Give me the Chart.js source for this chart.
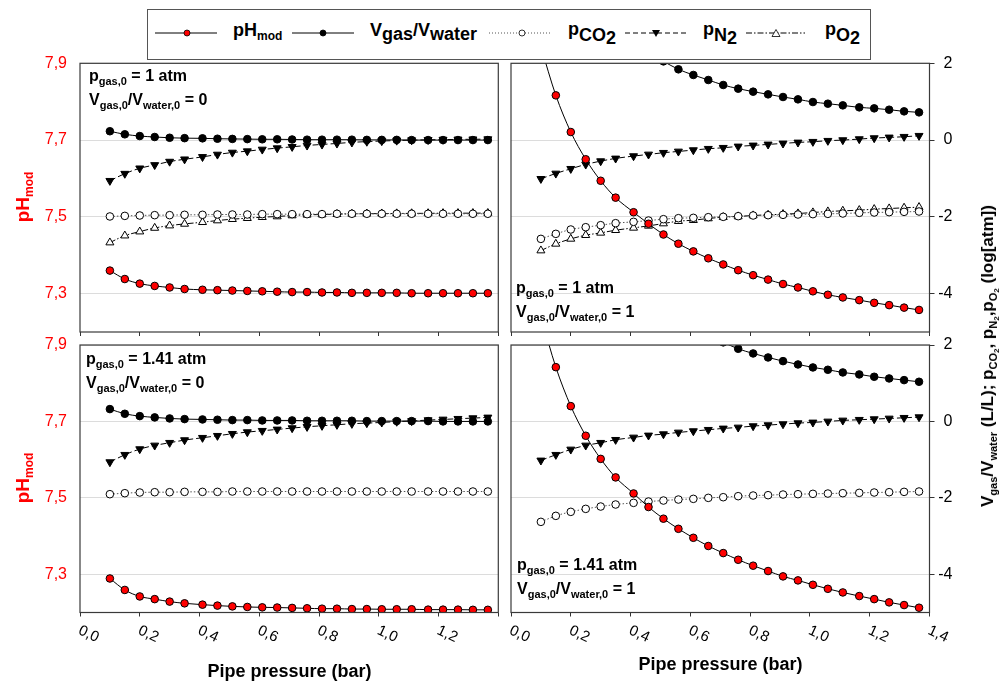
<!DOCTYPE html>
<html>
<head>
<meta charset="utf-8">
<script src="https://cdn.jsdelivr.net/npm/chart.js@4.4.0/dist/chart.umd.min.js"></script>
<style>
  html, body { margin: 0; padding: 0; background: #fff; }
  #wrap { position: relative; width: 999px; height: 685px; overflow: hidden;
          font-family: 'Liberation Sans', Arial, sans-serif; color: #000; }
  canvas { position: absolute; left: 0; top: 0; }
  .note { position: absolute; font-weight: bold; font-size: 16px; line-height: 16px; white-space: nowrap; }
  .note .s { font-size: 11px; position: relative; top: 4px; }
  .yt { position: absolute; transform: translate(-50%, -50%) rotate(-90deg); white-space: nowrap;
        color: #f00; font-weight: bold; font-size: 19px; line-height: 19px; }
  .yt .s { font-size: 12px; position: relative; top: 4px; }
  .yt2 { position: absolute; transform: translate(-50%, -50%) rotate(-90deg); white-space: nowrap;
         font-weight: bold; font-size: 17px; line-height: 17px; }
  .yt2 .s { font-size: 11px; position: relative; top: 4px; }
  .yt2 .s2 { font-size: 8px; position: relative; top: 2px; }
  .xt { position: absolute; transform: translate(-50%, -50%); white-space: nowrap;
        font-weight: bold; font-size: 18px; line-height: 18px; }
  #legend { position: absolute; left: 147px; top: 9px; width: 724px; height: 51px;
            box-sizing: border-box; border: 1px solid #555; background: #fff; }
  .lg { position: absolute; top: 21px; font-weight: bold; font-size: 18px; line-height: 18px; white-space: nowrap; }
  .lg .m { font-size: 12px; position: relative; top: 4px; }
  .lg .low { position: relative; top: 4px; }
  .lg .low2 { position: relative; top: 6px; }
  .lg .low3 { position: relative; top: 3px; }
</style>
</head>
<body>
<div id="wrap">
  <canvas id="cTL" width="999" height="685"></canvas>
  <canvas id="cTR" width="999" height="685"></canvas>
  <canvas id="cBL" width="999" height="685"></canvas>
  <canvas id="cBR" width="999" height="685"></canvas>

  <div id="legend"></div>
  <svg width="999" height="65" style="position:absolute;left:0;top:0">
    <line x1="155" y1="33" x2="217" y2="33" stroke="#000" stroke-width="1"/>
    <circle cx="187" cy="33" r="3" fill="#f00" stroke="#000" stroke-width="0.8"/>
    <line x1="292" y1="33" x2="354" y2="33" stroke="#000" stroke-width="1"/>
    <circle cx="323" cy="33" r="3" fill="#000" stroke="#000" stroke-width="0.8"/>
    <line x1="489" y1="33" x2="550" y2="33" stroke="#555" stroke-width="1" stroke-dasharray="1 2"/>
    <circle cx="522" cy="33" r="3" fill="#fff" stroke="#000" stroke-width="0.8"/>
    <line x1="625" y1="33" x2="687" y2="33" stroke="#000" stroke-width="1" stroke-dasharray="5 3"/>
    <polygon points="652,30 660,30 656,37" fill="#000"/>
    <line x1="746" y1="33" x2="805" y2="33" stroke="#000" stroke-width="1" stroke-dasharray="6 2 1.5 2"/>
    <polygon points="772,36.5 780,36.5 776,29.5" fill="#fff" stroke="#000" stroke-width="0.8"/>
  </svg>
  <div class="lg" style="left:233px">pH<span class="m">mod</span></div>
  <div class="lg" style="left:370px">V<span class="low">gas</span>/V<span class="low">water</span></div>
  <div class="lg" style="left:568px;top:20px">p<span class="low2">CO<span class="low3">2</span></span></div>
  <div class="lg" style="left:703px;top:20px">p<span class="low2">N<span class="low3">2</span></span></div>
  <div class="lg" style="left:825px;top:20px">p<span class="low2">O<span class="low3">2</span></span></div>

  <div class="note" style="left:89px;top:68px">p<span class="s">gas,0</span> = 1 atm</div>
  <div class="note" style="left:89px;top:92px">V<span class="s">gas,0</span>/V<span class="s">water,0</span> = 0</div>
  <div class="note" style="left:516px;top:280px">p<span class="s">gas,0</span> = 1 atm</div>
  <div class="note" style="left:516px;top:304px">V<span class="s">gas,0</span>/V<span class="s">water,0</span> = 1</div>
  <div class="note" style="left:86px;top:351px">p<span class="s">gas,0</span> = 1.41 atm</div>
  <div class="note" style="left:86px;top:375px">V<span class="s">gas,0</span>/V<span class="s">water,0</span> = 0</div>
  <div class="note" style="left:517px;top:557px">p<span class="s">gas,0</span> = 1.41 atm</div>
  <div class="note" style="left:517px;top:581px">V<span class="s">gas,0</span>/V<span class="s">water,0</span> = 1</div>

  <div class="yt" style="left:24px;top:197px">pH<span class="s">mod</span></div>
  <div class="yt" style="left:24px;top:478px">pH<span class="s">mod</span></div>
  <div class="yt2" style="left:989px;top:356px">V<span class="s">gas</span>/V<span class="s">water</span> (L/L); p<span class="s">CO<span class="s2">2</span></span>, p<span class="s">N<span class="s2">2</span></span>,p<span class="s">O<span class="s2">2</span></span> (log[atm])</div>

  <div class="xt" style="left:289.5px;top:671px">Pipe pressure (bar)</div>
  <div class="xt" style="left:720.5px;top:664px">Pipe pressure (bar)</div>
</div>

<script>
"use strict";

// pipe pressure (bar) of every modelled point
const pressure = [0.10, 0.15, 0.20, 0.25, 0.30, 0.35, 0.41, 0.46, 0.51, 0.56, 0.61, 0.66, 0.71,
                  0.76, 0.81, 0.86, 0.91, 0.96, 1.01, 1.06, 1.11, 1.165, 1.215, 1.265, 1.315, 1.365];

const xTicks = [0, 0.2, 0.4, 0.6, 0.8, 1.0, 1.2, 1.4];
const phTicks = [7.3, 7.5, 7.7, 7.9];
const logTicks = [-4, -2, 0, 2];

// top left: pgas,0 = 1 atm, Vgas,0/Vwater,0 = 0
const phTL = [7.360, 7.338, 7.326, 7.320, 7.316, 7.312, 7.310, 7.309, 7.308, 7.307, 7.306, 7.305, 7.304,
              7.304, 7.303, 7.303, 7.302, 7.302, 7.302, 7.302, 7.301, 7.301, 7.301, 7.301, 7.301, 7.301];
const vgTL = [0.23, 0.15, 0.105, 0.08, 0.06, 0.05, 0.045, 0.035, 0.03, 0.025, 0.02, 0.02, 0.015,
              0.01, 0.01, 0.01, 0.01, 0.005, 0.005, 0.005, 0, 0, 0, 0, 0, 0];
const co2TL = [-1.99, -1.975, -1.965, -1.956, -1.956, -1.947, -1.947, -1.939, -1.939, -1.939, -1.93, -1.93, -1.93,
               -1.93, -1.93, -1.92, -1.92, -1.92, -1.92, -1.92, -1.92, -1.92, -1.92, -1.92, -1.92, -1.92];
const n2TL = [-1.06, -0.875, -0.735, -0.648, -0.56, -0.5, -0.438, -0.376, -0.324, -0.289, -0.245, -0.21, -0.175,
              -0.14, -0.114, -0.088, -0.06, -0.04, -0.025, -0.012, -0.002, 0.006, 0.012, 0.017, 0.021, 0.025];
const o2TL = [-2.67, -2.49, -2.385, -2.29, -2.228, -2.184, -2.14, -2.096, -2.061, -2.035, -2.009, -1.991, -1.965,
              -1.947, -1.94, -1.93, -1.922, -1.918, -1.915, -1.912, -1.91, -1.908, -1.906, -1.905, -1.904, -1.903];

// top right: pgas,0 = 1 atm, Vgas,0/Vwater,0 = 1
const phTR = [7.943, 7.8165, 7.721, 7.650, 7.594, 7.550, 7.512, 7.482, 7.454, 7.430, 7.410, 7.392, 7.376,
              7.361, 7.348, 7.3365, 7.325, 7.316, 7.306, 7.297, 7.290, 7.283, 7.276, 7.270, 7.2635, 7.2575];
const vgTR = [null, null, null, null, null, null, null, null, 2.05, 1.843, 1.696, 1.565, 1.435,
              1.339, 1.261, 1.191, 1.122, 1.061, 0.991, 0.948, 0.904, 0.852, 0.826, 0.791, 0.748, 0.722];
const co2TR = [-2.574, -2.443, -2.330, -2.270, -2.217, -2.165, -2.130, -2.096, -2.061, -2.035, -2.026, -2.009, -2.000,
               -1.983, -1.965, -1.957, -1.948, -1.939, -1.930, -1.922, -1.913, -1.896, -1.887, -1.878, -1.870, -1.861];
const n2TR = [-1.009, -0.870, -0.748, -0.635, -0.548, -0.478, -0.417, -0.374, -0.330, -0.296, -0.261, -0.226, -0.200,
              -0.165, -0.139, -0.113, -0.087, -0.061, -0.043, -0.017, 0.000, 0.026, 0.052, 0.070, 0.087, 0.113];
const o2TR = [-2.878, -2.704, -2.574, -2.478, -2.417, -2.348, -2.287, -2.235, -2.174, -2.113, -2.087, -2.043, -2.009,
              -1.991, -1.965, -1.948, -1.930, -1.913, -1.887, -1.861, -1.843, -1.826, -1.800, -1.783, -1.765, -1.748];

// bottom left: pgas,0 = 1.41 atm, Vgas,0/Vwater,0 = 0
const phBL = [7.289, 7.259, 7.242, 7.235, 7.2285, 7.224, 7.2205, 7.218, 7.216, 7.2145, 7.2135, 7.213, 7.212,
              7.211, 7.210, 7.210, 7.209, 7.209, 7.2085, 7.2085, 7.2085, 7.2075, 7.2075, 7.2075, 7.207, 7.207];
const vgBL = [0.323, 0.200, 0.139, 0.105, 0.078, 0.061, 0.052, 0.044, 0.035, 0.035, 0.026, 0.026, 0.026,
              0.017, 0.017, 0.017, 0.017, 0.009, 0.009, 0.009, 0.009, 0.009, 0, 0, 0, 0];
const co2BL = [-1.904, -1.878, -1.860, -1.852, -1.852, -1.843, -1.843, -1.843, -1.834, -1.834, -1.834, -1.834, -1.834,
               -1.834, -1.834, -1.834, -1.834, -1.834, -1.834, -1.834, -1.834, -1.834, -1.834, -1.834, -1.834, -1.834];
const n2BL = [-1.064, -0.872, -0.724, -0.628, -0.558, -0.488, -0.427, -0.375, -0.323, -0.279, -0.244, -0.209, -0.174,
              -0.140, -0.113, -0.087, -0.061, -0.044, -0.026, -0.005, 0.012, 0.035, 0.052, 0.070, 0.087, 0.105];

// bottom right: pgas,0 = 1.41 atm, Vgas,0/Vwater,0 = 1
const phBR = [7.975, 7.842, 7.740, 7.6625, 7.602, 7.5535, 7.5115, 7.476, 7.4455, 7.419, 7.3955, 7.374, 7.3555,
              7.338, 7.3225, 7.3085, 7.2945, 7.284, 7.2725, 7.262, 7.2525, 7.243, 7.235, 7.2265, 7.2195, 7.2125];
const vgBR = [null, null, null, null, null, null, null, null, null, null, null, null, 2.07,
              1.901, 1.779, 1.674, 1.578, 1.491, 1.413, 1.352, 1.282, 1.230, 1.169, 1.125, 1.081, 1.038];
const co2BR = [-2.628, -2.471, -2.366, -2.288, -2.227, -2.174, -2.131, -2.096, -2.070, -2.044, -2.026, -2.000, -1.983,
               -1.956, -1.939, -1.930, -1.913, -1.904, -1.895, -1.887, -1.878, -1.869, -1.860, -1.852, -1.843, -1.834];
const n2BR = [-1.020, -0.872, -0.733, -0.628, -0.558, -0.480, -0.419, -0.366, -0.332, -0.288, -0.253, -0.218, -0.183,
              -0.157, -0.122, -0.096, -0.070, -0.044, -0.026, 0.000, 0.026, 0.044, 0.061, 0.078, 0.096, 0.113];

const FONT = "'Liberation Sans', Arial, sans-serif";
const comma = v => v.toFixed(1).replace('.', ',');

// box round each panel
const frame = {
    id: 'frame',
    afterDraw(chart) {
        const a = chart.chartArea, ctx = chart.ctx;
        ctx.save();
        ctx.strokeStyle = '#3a3a3a';
        ctx.lineWidth = 1.2;
        ctx.strokeRect(a.left, a.top, a.right - a.left, a.bottom - a.top);
        ctx.restore();
    }
};

// slanted x tick labels
const xlab = {
    id: 'xlab',
    afterDraw(chart, args, opts) {
        if (!opts.show) return;
        const sc = chart.scales.x, ctx = chart.ctx, b = chart.chartArea.bottom;
        ctx.save();
        ctx.font = '15px ' + FONT;
        ctx.fillStyle = '#000';
        ctx.textAlign = 'left';
        ctx.textBaseline = 'alphabetic';
        xTicks.forEach(v => {
            if (v > opts.last + 1e-9) return;
            ctx.save();
            ctx.translate(sc.getPixelForValue(v) - 2.5, b + 21);
            ctx.rotate(25 * Math.PI / 180);
            ctx.fillText(comma(v), 0, 0);
            ctx.restore();
        });
        ctx.restore();
    }
};

function datasets(ph, vg, co2, n2, o2) {
    const xy = arr => pressure.map((p, i) => ({x: p, y: arr[i]}));
    const base = {borderWidth: 1, pointBorderWidth: 1, pointBorderColor: '#000', pointRadius: 3.8,
                  cubicInterpolationMode: 'monotone', clip: 0, fill: false, yAxisID: 'ylog'};
    const list = [
        {...base, label: 'pHmod', data: xy(ph), yAxisID: 'yph', borderColor: '#000', pointBackgroundColor: '#ff0000'},
        {...base, label: 'Vgas/Vwater', data: xy(vg), borderColor: '#000', pointBackgroundColor: '#000'},
        {...base, label: 'pCO2', data: xy(co2), borderColor: '#555', borderDash: [1.5, 2], pointBackgroundColor: '#fff'},
        {...base, label: 'pN2', data: xy(n2), borderColor: '#000', borderDash: [6, 3], pointStyle: 'triangle',
         pointRotation: 180, pointRadius: 4.6, pointBackgroundColor: '#000'}
    ];
    if (o2) {
        list.push({...base, label: 'pO2', data: xy(o2), borderColor: '#000', borderDash: [6, 2, 1.5, 2],
                   pointStyle: 'triangle', pointRadius: 4.6, pointBackgroundColor: '#fff'});
    }
    return list;
}

// area = pixel box of the plot, side = which y axis is shown
function panel(id, area, side, showX, sets) {
    const left = side === 'left';
    return new Chart(document.getElementById(id).getContext('2d'), {
        type: 'line',
        data: {datasets: sets},
        options: {
            responsive: false,
            animation: false,
            devicePixelRatio: 1,
            events: [],
            layout: {padding: {
                left: left ? area.l - 80 : area.l,
                right: left ? 999 - area.r : 999 - area.r - 23,
                top: area.t,
                bottom: 685 - area.b
            }},
            plugins: {
                legend: {display: false},
                tooltip: {enabled: false},
                xlab: {show: showX, last: left ? 1.2 : 1.4}
            },
            scales: {
                x: {
                    type: 'linear', position: 'bottom', min: 0, max: 1.4,
                    afterBuildTicks: s => { s.ticks = xTicks.map(v => ({value: v})); },
                    afterFit: s => { s.height = 0; },
                    ticks: {display: false},
                    grid: {drawOnChartArea: false, drawTicks: true, tickLength: 4, tickColor: '#333'},
                    border: {display: false}
                },
                yph: {
                    type: 'linear', position: 'left', min: 7.2, max: 7.9, display: left,
                    afterBuildTicks: s => { s.ticks = phTicks.map(v => ({value: v})); },
                    afterFit: s => { if (left) s.width = 80; },
                    ticks: {color: '#ff0000', font: {size: 16, family: FONT}, padding: 13, callback: v => comma(v)},
                    grid: {color: '#dcdcdc', drawTicks: false},
                    border: {display: false}
                },
                ylog: {
                    type: 'linear', position: 'right', min: -5, max: 2, display: !left,
                    afterBuildTicks: s => { s.ticks = logTicks.map(v => ({value: v})); },
                    afterFit: s => { if (!left) s.width = 23; },
                    ticks: {color: '#000', font: {size: 16, family: FONT}, crossAlign: 'far', callback: v => String(v)},
                    grid: {color: '#dcdcdc', drawTicks: true, tickLength: 5, tickColor: '#333'},
                    border: {display: false}
                }
            }
        },
        plugins: [frame, xlab]
    });
}

panel('cTL', {l: 80, r: 498.3, t: 63.3, b: 332}, 'left', false, datasets(phTL, vgTL, co2TL, n2TL, o2TL));
panel('cTR', {l: 511, r: 929.5, t: 63.3, b: 332}, 'right', false, datasets(phTR, vgTR, co2TR, n2TR, o2TR));
panel('cBL', {l: 80, r: 498.3, t: 345, b: 612.5}, 'left', true, datasets(phBL, vgBL, co2BL, n2BL));
panel('cBR', {l: 511, r: 929.5, t: 345, b: 612.5}, 'right', true, datasets(phBR, vgBR, co2BR, n2BR));
</script>
</body>
</html>
